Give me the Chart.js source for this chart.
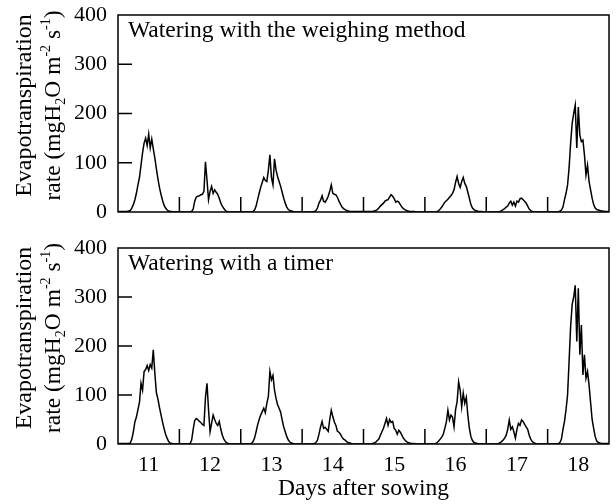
<!DOCTYPE html>
<html><head><meta charset="utf-8">
<script src="https://cdn.jsdelivr.net/npm/chart.js@4.4.1/dist/chart.umd.min.js"></script>
<style>
html,body{margin:0;padding:0;background:#fff;}
#wrap{position:relative;width:616px;height:504px;overflow:hidden;}
#c1{position:absolute;left:0;top:0;}
#c2{position:absolute;left:0;top:232px;}
</style></head><body>
<div id="wrap"><canvas id="c1" width="616" height="232"></canvas><canvas id="c2" width="616" height="272"></canvas></div>
<script>
// ---- data ----
const days = [11, 12, 13, 14, 15, 16, 17, 18];
const dayTicks = [11, 12, 13, 14, 15, 16, 17, 18];
const dayBoundaries = [11.5, 12.5, 13.5, 14.5, 15.5, 16.5, 17.5];
const yTickLabels = [0, 100, 200, 300, 400];
const yTickMarks = [100, 200, 300];
// sampling offsets within a day (days relative to day label)
const dayOffsets = [-0.5,-0.475,-0.45,-0.425,-0.4,-0.375,-0.35,-0.325,-0.3,-0.275,
  -0.25,-0.225,-0.2,-0.175,-0.15,-0.125,-0.1,-0.075,-0.05,-0.025,
  0,0.025,0.05,0.075,0.1,0.125,0.15,0.175,0.2,0.225,
  0.25,0.275,0.3,0.325,0.35,0.375,0.4,0.425,0.45,0.475,0.5];

// Watering with the weighing method (mgH2O m-2 s-1)
const weighingDay11 = [1,1,1,1,1,1,1,2,3,8,15,25,38,55,70,95,120,140,150,135,158,130,148,128,110,88,68,50,36,24,14,8,4,2,1,1,0,0,0,0];
const weighingDay12 = [0,0,0,0,0,0,0,0,1,6,22,30,32,33,35,36,42,102,65,25,42,52,38,45,40,36,28,18,12,7,3,1,0,0,0,0,0,0,0,0];
const weighingDay13 = [0,0,0,0,0,0,0,0,1,4,12,25,38,50,60,70,64,62,85,116,70,55,108,85,72,62,52,40,28,18,10,5,3,2,1,0,0,0,0,0];
const weighingDay14 = [0,0,0,0,0,0,0,0,1,3,8,18,24,33,22,20,25,32,42,55,38,36,35,30,22,16,10,7,5,3,2,1,1,1,1,1,1,1,1,1];
const weighingDay15 = [1,1,1,1,1,1,1,2,3,5,8,12,15,18,22,24,25,30,35,32,27,20,22,20,15,10,7,5,3,2,1,1,1,1,0,0,0,0,0,0];
const weighingDay16 = [0,0,0,0,0,0,0,0,1,3,6,10,15,20,23,26,30,33,38,45,60,72,58,50,62,70,58,52,40,28,15,8,5,3,2,1,1,1,0,0];
const weighingDay17 = [0,0,0,0,0,0,0,0,0,1,3,5,7,10,12,18,22,14,20,12,22,20,27,28,25,22,18,12,6,3,1,0,0,0,0,0,0,0,0,0];
const weighingDay18 = [0,0,0,0,0,0,0,0,2,4,10,25,38,55,90,140,180,200,217,130,213,156,143,146,116,75,95,62,45,28,15,8,5,4,3,2,2,1,1,1,1];

// Watering with a timer
const timerDay11 = [1,1,1,1,1,1,1,1,2,10,25,45,55,70,85,124,110,148,152,160,150,162,155,192,145,105,92,75,60,45,32,20,12,5,2,1,0,0,0,0];
const timerDay12 = [0,0,0,0,0,0,0,1,8,30,48,52,50,46,44,40,38,95,124,70,25,42,59,50,42,38,46,30,18,10,5,2,1,0,0,0,0,0,0,0];
const timerDay13 = [0,0,0,0,0,0,0,1,5,12,25,39,50,59,66,73,64,83,97,148,131,140,110,93,80,73,65,49,35,25,15,8,4,2,1,0,0,0,0,0];
const timerDay14 = [0,0,0,0,0,0,0,0,1,3,8,20,35,46,32,34,30,26,50,69,56,45,38,26,24,20,14,10,8,5,3,2,1,0,0,0,0,0,0,0];
const timerDay15 = [0,0,0,0,0,0,1,2,4,7,10,18,25,32,42,52,38,50,44,46,32,28,20,28,24,18,12,8,5,3,2,1,1,1,0,0,0,0,0,0];
const timerDay16 = [0,0,0,0,0,0,0,1,3,6,10,14,20,32,45,69,49,59,55,35,70,86,127,110,76,104,83,95,59,32,15,7,3,2,1,0,0,0,0,0];
const timerDay17 = [0,0,0,0,0,0,0,0,1,3,5,8,12,18,30,49,30,35,25,12,30,42,38,49,46,40,35,30,18,10,5,3,1,0,0,0,0,0,0,0];
const timerDay18 = [0,0,0,0,0,0,0,1,3,10,30,46,70,100,170,240,285,300,324,209,318,182,243,141,182,134,148,120,85,50,32,15,6,3,2,1,1,1,1,1,1];

const weighingSeries = [weighingDay11, weighingDay12, weighingDay13, weighingDay14, weighingDay15, weighingDay16, weighingDay17, weighingDay18];
const timerSeries = [timerDay11, timerDay12, timerDay13, timerDay14, timerDay15, timerDay16, timerDay17, timerDay18];

const yTitleLine1 = 'Evapotranspiration';
const yTitleLine2 = [{t:'rate (mgH'},{t:'2',sub:true},{t:'O m'},{t:'-2',sup:true},{t:' s'},{t:'-1',sup:true},{t:')'}];

// ---- drawing ----
const FONT = "'Liberation Serif','Times New Roman',serif";

function buildPoints(dayArrays){
  const pts = [];
  days.forEach((d, k) => {
    dayArrays[k].forEach((v, i) => pts.push({x: d + dayOffsets[i], y: v}));
  });
  return pts;
}

function drawRich(ctx, segs, cx, cy, size){
  const small = Math.round(size * 0.6);
  ctx.save();
  ctx.translate(cx, cy);
  ctx.rotate(-Math.PI/2);
  ctx.textBaseline = 'middle';
  ctx.textAlign = 'left';
  let w = 0;
  segs.forEach(s => {
    ctx.font = ((s.sub||s.sup) ? small : size) + 'px ' + FONT;
    s.w = ctx.measureText(s.t).width;
    w += s.w;
  });
  let x = -w/2;
  segs.forEach(s => {
    ctx.font = ((s.sub||s.sup) ? small : size) + 'px ' + FONT;
    const dy = s.sub ? 7 : (s.sup ? -8 : 0);
    ctx.fillText(s.t, x, dy);
    x += s.w;
  });
  ctx.restore();
}

const decoPlugin = {
  id: 'deco',
  afterDraw(chart, args, opts){
    const {ctx, chartArea: a, scales} = chart;
    const xs = scales.x, ys = scales.y;
    ctx.save();
    ctx.strokeStyle = '#000';
    ctx.lineWidth = 1.5;
    ctx.strokeRect(a.left, a.top, a.right - a.left, a.bottom - a.top);
    ctx.beginPath();
    yTickMarks.forEach(v => { const y = ys.getPixelForValue(v); ctx.moveTo(a.left, y); ctx.lineTo(a.left + 14, y); });
    dayBoundaries.forEach(v => { const x = xs.getPixelForValue(v); ctx.moveTo(x, a.bottom); ctx.lineTo(x, a.bottom - 15); });
    ctx.stroke();
    ctx.fillStyle = '#000';
    ctx.font = '23.5px ' + FONT;
    ctx.textAlign = 'left';
    ctx.textBaseline = 'alphabetic';
    ctx.fillText(opts.title, a.left + 10, a.top + 22);
    const cy = (a.top + a.bottom) / 2 - 8;
    ctx.save();
    ctx.translate(25, cy);
    ctx.rotate(-Math.PI/2);
    ctx.font = '24px ' + FONT;
    ctx.textAlign = 'center';
    ctx.textBaseline = 'middle';
    ctx.fillText(yTitleLine1, 0, 0);
    ctx.restore();
    drawRich(ctx, yTitleLine2, 54, cy, 23.5);
    if (opts.xTitle) {
      ctx.font = '23.5px ' + FONT;
      ctx.textAlign = 'center';
      ctx.textBaseline = 'alphabetic';
      ctx.fillText(opts.xTitle, (a.left + a.right) / 2, a.bottom + 51);
    }
    ctx.restore();
  }
};

function makeChart(id, series, title, isBottom){
  return new Chart(document.getElementById(id), {
    type: 'line',
    data: { datasets: [{
      data: buildPoints(series),
      borderColor: '#000', borderWidth: 1.5, pointRadius: 0, tension: 0, fill: false
    }]},
    plugins: [decoPlugin],
    options: {
      responsive: false, animation: false,
      layout: { padding: { top: isBottom ? 16 : 15, right: 7, left: 0, bottom: 0 } },
      plugins: { legend: {display: false}, tooltip: {enabled: false},
        deco: { title: title, xTitle: isBottom ? 'Days after sowing' : null } },
      scales: {
        x: { type: 'linear', min: 10.5, max: 18.5,
          afterBuildTicks: s => { s.ticks = dayTicks.map(v => ({value: v})); },
          afterFit: s => { s.height = isBottom ? 60 : 20; s.paddingLeft = 0; s.paddingRight = 0; },
          grid: {display: false, drawTicks: false}, border: {display: false},
          ticks: { display: isBottom, color: '#000', padding: 8, maxRotation: 0, autoSkip: false,
            font: {family: FONT, size: 22} } },
        y: { type: 'linear', min: 0, max: 400,
          afterBuildTicks: s => { s.ticks = yTickLabels.map(v => ({value: v})); },
          afterFit: s => { s.width = 118; s.paddingTop = 0; s.paddingBottom = 0; },
          grid: {display: false, drawTicks: false}, border: {display: false},
          ticks: { color: '#000', padding: 11, font: {family: FONT, size: 22} } }
      }
    }
  });
}

makeChart('c1', weighingSeries, 'Watering with the weighing method', false);
makeChart('c2', timerSeries, 'Watering with a timer', true);
</script>
</body></html>
